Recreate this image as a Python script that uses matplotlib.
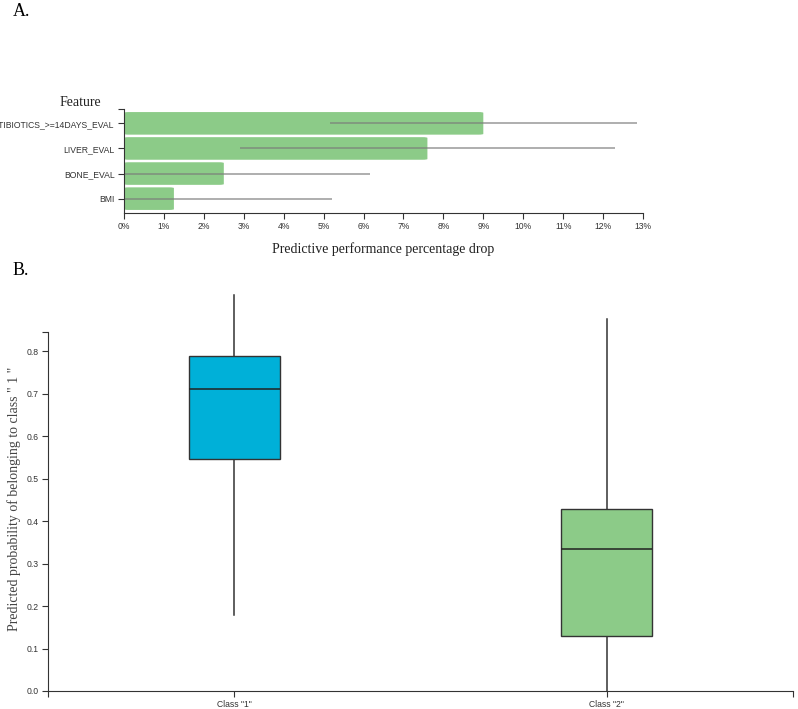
import matplotlib
matplotlib.use("Agg")
import matplotlib.pyplot as plt
import numpy as np
from matplotlib.patches import FancyBboxPatch

# panel A data
features = ["ANTIBIOTICS_>=14DAYS_EVAL", "LIVER_EVAL", "BONE_EVAL", "BMI"]
drop_pct = [9.0, 7.6, 2.5, 1.25]
drop_err = [3.85, 4.7, 3.65, 3.95]
pct_ticks = list(range(0, 14))

# panel B data
classes = ['Class "1"', 'Class "2"']
whis_lo = [0.18, 0.0]
q1 = [0.546, 0.13]
med = [0.711, 0.335]
q3 = [0.789, 0.428]
whis_hi = [0.932, 0.875]
box_colors = ["#00b0d8", "#8ccb88"]

bar_color = "#8ccb88"
serif = ["Liberation Serif", "DejaVu Serif"]
sans = ["Liberation Sans", "DejaVu Sans"]

fig = plt.figure(figsize=(7.98, 7.09), dpi=100)

# ---- A ----
ax = fig.add_axes([124 / 798, 1 - 212.7 / 709, 519 / 798, 103.4 / 709])
ypos = np.arange(len(features))
bh = 0.9
for y, v in zip(ypos, drop_pct):
    ax.add_patch(FancyBboxPatch((0, y - bh / 2), v, bh,
                                boxstyle="round,pad=0,rounding_size=0.12",
                                mutation_aspect=1 / 4.0,
                                facecolor=bar_color, edgecolor="none"))
for y, v, e in zip(ypos, drop_pct, drop_err):
    ax.plot([v - e, v + e], [y, y], color="#7a7a7a", alpha=0.65, lw=1.3,
            solid_capstyle="butt")
ax.set_xlim(0, 13)
ax.set_ylim(3.56, -0.56)
ax.set_xticks(pct_ticks)
ax.set_xticklabels([f"{t}%" for t in pct_ticks])
ax.set_yticks(list(ypos) + [-0.56])
ax.set_yticklabels(features + [""])
for s in ("top", "right"):
    ax.spines[s].set_visible(False)
for s in ("left", "bottom"):
    ax.spines[s].set_color("#333333")
ax.tick_params(length=4.5, width=0.8, color="#333333", labelsize=6.2,
               labelcolor="#333333", pad=2)
for lab in ax.get_xticklabels() + ax.get_yticklabels():
    lab.set_family(sans)
ax.set_xlabel("Predictive performance percentage drop", family=serif,
              fontsize=10, labelpad=8, color="#222222")
fig.text(80 / 798, 1 - 102 / 709, "Feature", family=serif, fontsize=10,
         ha="center", va="center", color="#222222")

# ---- B ----
bx = fig.add_axes([48 / 798, 1 - 691 / 709, 745 / 798, 359 / 709])
stats = []
for i in range(len(classes)):
    stats.append({"whislo": whis_lo[i], "q1": q1[i], "med": med[i],
                  "q3": q3[i], "whishi": whis_hi[i], "fliers": []})
bp = bx.bxp(stats, positions=[0, 1], widths=0.243, patch_artist=True,
            showcaps=False, showfliers=False,
            boxprops=dict(edgecolor="#333333", linewidth=1.0),
            medianprops=dict(color="#222222", linewidth=1.1),
            whiskerprops=dict(color="#333333", linewidth=1.1))
for patch, c in zip(bp["boxes"], box_colors):
    patch.set_facecolor(c)
for w in bp["whiskers"]:
    w.set_clip_on(False)
    w.set_zorder(1)
ymax = 0.845
bx.set_xlim(-0.5, 1.5)
bx.set_ylim(0, ymax)
bx.set_xticks([-0.5, 0, 1, 1.5])
bx.set_xticklabels([""] + classes + [""])
yt = [round(0.1 * i, 1) for i in range(9)]
bx.set_yticks(yt + [ymax])
bx.set_yticklabels([f"{v:.1f}" for v in yt] + [""])
for s in ("top", "right"):
    bx.spines[s].set_visible(False)
for s in ("left", "bottom"):
    bx.spines[s].set_color("#333333")
bx.tick_params(length=4.5, width=0.8, color="#333333", labelsize=6.2,
               labelcolor="#333333", pad=2)
for lab in bx.get_xticklabels() + bx.get_yticklabels():
    lab.set_family(sans)
fig.text(14 / 798, 1 - 499 / 709,
         'Predicted probability of belonging to class " 1 "',
         family=serif, fontsize=10, rotation=90, ha="center", va="center",
         color="#444444")

fig.text(13 / 798, 1 - 11 / 709, "A.", family=serif, fontsize=13,
         ha="left", va="center")
fig.text(13 / 798, 1 - 270 / 709, "B.", family=serif, fontsize=13,
         ha="left", va="center")

fig.savefig("out.png", dpi=100)
